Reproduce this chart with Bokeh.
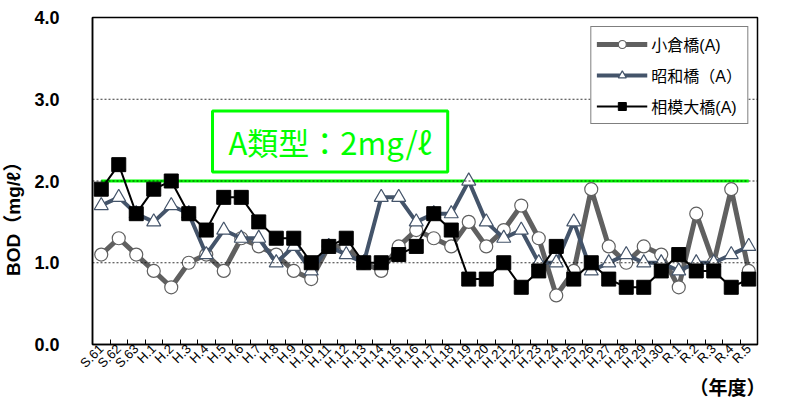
import math
from bokeh.plotting import figure
from bokeh.models import (ColumnDataSource, FixedTicker, NumeralTickFormatter, Span,
                          Label, Legend, LegendItem, Range1d, Title)
from bokeh.embed import file_html
from bokeh.resources import INLINE

categories = ["S.61", "S.62", "S.63"] + ["H.%d" % i for i in range(1, 31)] + ["R.%d" % i for i in range(1, 6)]
ogura = [1.1, 1.3, 1.1, 0.9, 0.7, 1.0, 1.1, 0.9, 1.3, 1.2, 1.1, 0.9, 0.8, 1.2, 1.2, 1.0, 0.9, 1.2, 1.4, 1.3,
         1.2, 1.5, 1.2, 1.4, 1.7, 1.3, 0.6, 0.9, 1.9, 1.2, 1.0, 1.2, 1.1, 0.7, 1.6, 1.0, 1.9, 0.9]
showa = [1.7, 1.8, 1.6, 1.5, 1.7, 1.6, 1.1, 1.4, 1.3, 1.3, 1.0, 1.2, 0.9, 1.2, 1.1, 1.0, 1.8, 1.8, 1.5, 1.6,
         1.6, 2.0, 1.5, 1.3, 1.4, 1.0, 1.0, 1.5, 0.9, 1.0, 1.1, 1.0, 1.0, 0.9, 1.0, 1.0, 1.1, 1.2]
sagami = [1.9, 2.2, 1.6, 1.9, 2.0, 1.6, 1.4, 1.8, 1.8, 1.5, 1.3, 1.3, 1.0, 1.2, 1.3, 1.0, 1.0, 1.1, 1.2, 1.6,
          1.4, 0.8, 0.8, 1.0, 0.7, 0.9, 1.2, 0.8, 1.0, 0.8, 0.7, 0.7, 0.9, 1.1, 0.9, 0.9, 0.7, 0.8]
standard = 2.0
y_ticks = [0.0, 1.0, 2.0, 3.0, 4.0]
grid_levels = [1.0, 2.0, 3.0]

xs = list(range(len(categories)))
src = ColumnDataSource(dict(x=xs, ogura=ogura, showa=showa, sagami=sagami,
                            std=[standard] * len(xs)))

JP = "Liberation Sans, Noto Sans CJK JP"
CJK = "Noto Sans CJK JP"

W, H = 771, 398
BL, BR, BT, BB = 83, 14, 17, 54

p = figure(width=W, height=H, output_backend="svg", toolbar_location=None,
           x_range=Range1d(-0.5, len(categories) - 0.5), y_range=Range1d(0, 4),
           min_border_left=BL, min_border_right=BR, min_border_top=BT, min_border_bottom=BB)
p.background_fill_color = "white"
p.border_fill_color = "white"
p.outline_line_color = "black"
p.outline_line_width = 1.5
p.xgrid.visible = False
p.ygrid.visible = False

for lv in grid_levels:
    p.add_layout(Span(location=lv, dimension="width", line_color="black",
                      line_width=0.8, line_dash="2 2"))

# standard line
p.line("x", "std", source=src, line_color="#00FF00", line_width=3)

r1l = p.line("x", "ogura", source=src, line_color="#606060", line_width=5)
r1m = p.scatter("x", "ogura", source=src, marker="circle", size=13, fill_color="white",
                line_color="#606060", line_width=1.2)
r2l = p.line("x", "showa", source=src, line_color="#44546A", line_width=4)
r2m = p.scatter("x", "showa", source=src, marker="triangle", size=14, fill_color="white",
                line_color="#44546A", line_width=1.2)
r3l = p.line("x", "sagami", source=src, line_color="black", line_width=2)
r3m = p.scatter("x", "sagami", source=src, marker="square", size=14, fill_color="black",
                line_color="black")

# axes
p.xaxis.ticker = FixedTicker(ticks=xs, minor_ticks=[i - 0.5 for i in range(len(xs) + 1)])
p.xaxis.major_label_overrides = {i: c for i, c in enumerate(categories)}
p.xaxis.major_label_orientation = math.pi / 4
p.xaxis.major_label_text_font = "Liberation Sans"
p.xaxis.major_label_text_font_size = "13px"
p.xaxis.major_label_text_color = "black"
p.xaxis.major_tick_line_color = None
p.xaxis.major_tick_out = 0
p.xaxis.major_tick_in = 0
p.xaxis.minor_tick_in = 5
p.xaxis.minor_tick_out = 0
p.xaxis.minor_tick_line_color = "black"
p.xaxis.axis_line_color = "black"
p.xaxis.axis_line_width = 1.5
p.xaxis.major_label_standoff = 2

p.yaxis.ticker = FixedTicker(ticks=y_ticks)
p.yaxis.formatter = NumeralTickFormatter(format="0.0")
p.yaxis.major_label_text_font = "Liberation Sans"
p.yaxis.major_label_text_font_style = "bold"
p.yaxis.major_label_text_font_size = "18px"
p.yaxis.major_label_text_color = "black"
p.yaxis.major_tick_line_color = None
p.yaxis.minor_tick_line_color = None
p.yaxis.axis_line_color = "black"
p.yaxis.axis_line_width = 1.5
p.yaxis.major_label_standoff = 27
p.yaxis.axis_label = "BOD（mg/ℓ）\u3000\u3000\u3000\u3000"
p.yaxis.axis_label_text_font = JP
p.yaxis.axis_label_text_font_style = "bold"
p.yaxis.axis_label_text_font_size = "19px"
p.yaxis.axis_label_text_color = "black"
p.yaxis.axis_label_standoff = 7

# legend
legend = Legend(items=[
    LegendItem(label="小倉橋(A)", renderers=[r1l, r1m]),
    LegendItem(label="昭和橋（A）", renderers=[r2l, r2m]),
    LegendItem(label="相模大橋(A)", renderers=[r3l, r3m]),
], location="top_right")
legend.label_text_font = JP
legend.label_text_font_size = "16px"
legend.label_text_color = "black"
legend.glyph_width = 51
legend.glyph_height = 20
legend.label_height = 20
legend.spacing = 7
legend.padding = 5
legend.margin = 9
legend.label_standoff = 4
legend.border_line_color = "black"
legend.border_line_width = 1.5
legend.background_fill_color = "white"
legend.background_fill_alpha = 1
p.add_layout(legend)

# class A standard annotation
p.add_layout(Label(x=120, y=2.11, x_units="screen", y_units="data",
                   text="A類型：2mg/ℓ", text_font=CJK, text_font_size="31px",
                   text_color="#00FF00", padding=(16, 8),
                   border_line_color="#00FF00", border_line_width=3,
                   background_fill_color="white"))

# year label below the axis
p.add_layout(Title(text="（年度）", align="right", offset=-8, standoff=-4,
                   vertical_align="top",
                   text_font=JP, text_font_style="bold", text_font_size="19px",
                   text_color="black"), "below")

open("out.html", "w").write(file_html(p, INLINE))
